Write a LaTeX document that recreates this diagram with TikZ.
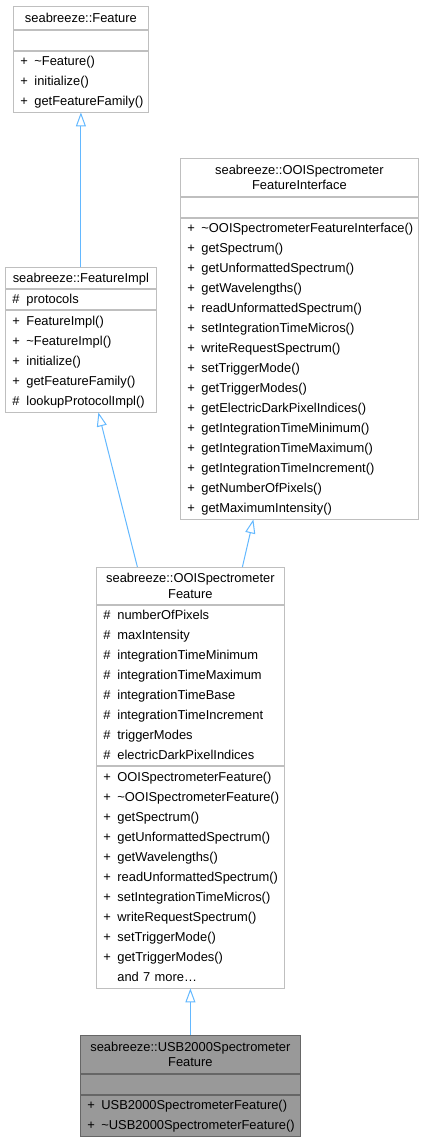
\documentclass[tikz,border=0pt]{standalone}
\usepackage{fontspec}
\setmainfont{Liberation Sans}
\usetikzlibrary{arrows.meta}
\definecolor{grayseventyfive}{HTML}{BFBFBF}
\definecolor{graysixty}{HTML}{999999}
\definecolor{grayforty}{HTML}{666666}
\definecolor{edgeblue}{HTML}{63B8FF}
\newcommand\umlrow[2]{\strut\makebox[14pt][l]{#1}#2}
\newcommand\tstrut{\rule[-2.4pt]{0pt}{14pt}}
\begin{document}
\begin{tikzpicture}[x=1pt,y=-1pt,
  comp/.style={draw=grayseventyfive, fill=white, line width=0.8pt, anchor=north west,
    inner ysep=0pt, minimum width=#1, text width=#1-14pt, inner xsep=7pt, align=left,
    font=\fontsize{12.9}{20}\selectfont},
  ttl/.style={comp=#1, align=center, text width=#1-6pt, inner xsep=3pt,
    font=\fontsize{12.9}{14}\selectfont},
  hl/.style={fill=graysixty, draw=grayforty},
  edge/.style={draw=edgeblue, line width=1pt, -{Triangle[open, length=14pt, width=10pt]}}
]
\useasboundingbox (0,0) rectangle (424,1140);

% seabreeze::Feature
\node[ttl=135pt, minimum height=23pt] (fT) at (13,6) {\tstrut seabreeze::Feature};
\node[comp=135pt, minimum height=20pt] (fA) at (fT.south west) {};
\node[comp=135pt, minimum height=61pt] (fM) at (fA.south west)
  {\umlrow{+}{\textasciitilde Feature()}\\\umlrow{+}{initialize()}\\\umlrow{+}{getFeatureFamily()}};

% seabreeze::FeatureImpl
\node[ttl=151pt, minimum height=21pt] (iT) at (5,267) {\tstrut seabreeze::FeatureImpl};
\node[comp=151pt, minimum height=20pt] (iA) at (iT.south west) {\umlrow{\#}{protocols}};
\node[comp=151pt, minimum height=102pt] (iM) at (iA.south west)
  {\umlrow{+}{FeatureImpl()}\\\umlrow{+}{\textasciitilde FeatureImpl()}\\\umlrow{+}{initialize()}\\\umlrow{+}{getFeatureFamily()}\\\umlrow{\#}{lookupProtocolImpl()}};

% seabreeze::OOISpectrometerFeatureInterface
\node[ttl=238pt, minimum height=38pt] (nT) at (180,158) {\tstrut seabreeze::OOISpectrometer\\\tstrut FeatureInterface};
\node[comp=238pt, minimum height=20pt] (nA) at (nT.south west) {};
\node[comp=238pt, minimum height=301pt] (nM) at (nA.south west)
  {\umlrow{+}{\textasciitilde OOISpectrometerFeatureInterface()}\\
   \umlrow{+}{getSpectrum()}\\
   \umlrow{+}{getUnformattedSpectrum()}\\
   \umlrow{+}{getWavelengths()}\\
   \umlrow{+}{readUnformattedSpectrum()}\\
   \umlrow{+}{setIntegrationTimeMicros()}\\
   \umlrow{+}{writeRequestSpectrum()}\\
   \umlrow{+}{setTriggerMode()}\\
   \umlrow{+}{getTriggerModes()}\\
   \umlrow{+}{getElectricDarkPixelIndices()}\\
   \umlrow{+}{getIntegrationTimeMinimum()}\\
   \umlrow{+}{getIntegrationTimeMaximum()}\\
   \umlrow{+}{getIntegrationTimeIncrement()}\\
   \umlrow{+}{getNumberOfPixels()}\\
   \umlrow{+}{getMaximumIntensity()}};

% seabreeze::OOISpectrometerFeature
\node[ttl=188pt, minimum height=37pt] (oT) at (96,567) {\tstrut seabreeze::OOISpectrometer\\\tstrut Feature};
\node[comp=188pt, minimum height=160pt] (oA) at (oT.south west)
  {\umlrow{\#}{numberOfPixels}\\
   \umlrow{\#}{maxIntensity}\\
   \umlrow{\#}{integrationTimeMinimum}\\
   \umlrow{\#}{integrationTimeMaximum}\\
   \umlrow{\#}{integrationTimeBase}\\
   \umlrow{\#}{integrationTimeIncrement}\\
   \umlrow{\#}{triggerModes}\\
   \umlrow{\#}{electricDarkPixelIndices}};
\node[comp=188pt, minimum height=222pt] (oM) at (oA.south west)
  {\umlrow{+}{OOISpectrometerFeature()}\\
   \umlrow{+}{\textasciitilde OOISpectrometerFeature()}\\
   \umlrow{+}{getSpectrum()}\\
   \umlrow{+}{getUnformattedSpectrum()}\\
   \umlrow{+}{getWavelengths()}\\
   \umlrow{+}{readUnformattedSpectrum()}\\
   \umlrow{+}{setIntegrationTimeMicros()}\\
   \umlrow{+}{writeRequestSpectrum()}\\
   \umlrow{+}{setTriggerMode()}\\
   \umlrow{+}{getTriggerModes()}\\
   \umlrow{}{and 7 more…}};

% seabreeze::USB2000SpectrometerFeature
\node[ttl=220pt, hl, minimum height=38pt] (uT) at (80,1035) {\tstrut seabreeze::USB2000Spectrometer\\\tstrut Feature};
\node[comp=220pt, hl, minimum height=20pt] (uA) at (uT.south west) {};
\node[comp=220pt, hl, minimum height=41pt] (uM) at (uA.south west)
  {\umlrow{+}{USB2000SpectrometerFeature()}\\\umlrow{+}{\textasciitilde USB2000SpectrometerFeature()}};

% inheritance edges
\draw[edge] (iT.north) -- (fM.south);
\draw[edge] ([xshift=-53pt]oT.north) -- ([xshift=17.5pt]iM.south);
\draw[edge] ([xshift=52pt]oT.north) -- ([xshift=-46pt]nM.south);
\draw[edge] (uT.north) -- (oM.south);
\end{tikzpicture}
\end{document}
